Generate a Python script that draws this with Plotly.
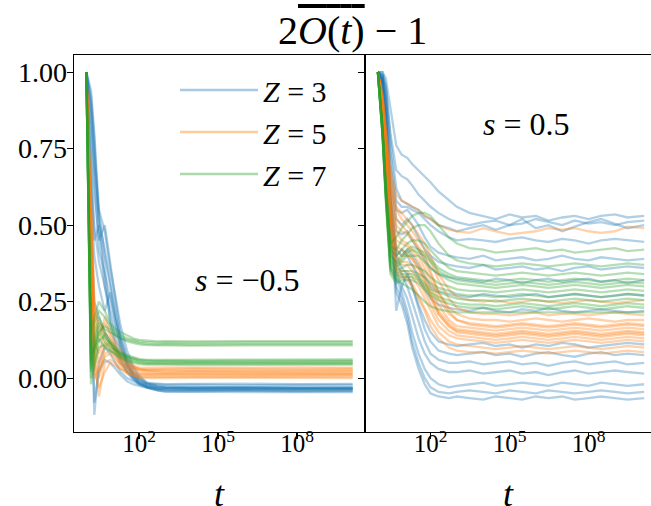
import plotly.graph_objects as go
from plotly.subplots import make_subplots

# ---------------- data ----------------
T_LEFT = [1, 1.5, 2, 3, 5, 8, 13, 20, 35, 60, 100, 200, 500, 1e3, 1e4, 1e6, 1e8, 1.3e10]

LEFT_Z3 = [
    [1.0, 0.94, 0.80, 0.55, 0.48, 0.36, 0.26, 0.17, 0.09, 0.04, 0.01, -0.015, -0.025, -0.028, -0.030, -0.029, -0.031, -0.030],
    [1.0, 0.88, 0.70, 0.54, 0.40, 0.30, 0.20, 0.13, 0.06, 0.02, 0.0, -0.02, -0.03, -0.032, -0.034, -0.033, -0.035, -0.034],
    [1.0, 0.80, 0.62, 0.45, 0.50, 0.38, 0.24, 0.14, 0.07, 0.03, 0.0, -0.015, -0.02, -0.022, -0.021, -0.023, -0.022, -0.022],
    [1.0, 0.72, 0.50, 0.38, 0.30, 0.22, 0.15, 0.09, 0.04, 0.01, -0.01, -0.025, -0.035, -0.037, -0.038, -0.036, -0.038, -0.037],
    [1.0, 0.60, 0.40, 0.30, 0.22, 0.28, 0.18, 0.10, 0.05, 0.015, -0.005, -0.02, -0.027, -0.03, -0.029, -0.031, -0.030, -0.031],
    [1.0, 0.50, 0.25, 0.20, 0.15, 0.12, 0.08, 0.05, 0.02, 0.0, -0.015, -0.03, -0.04, -0.042, -0.043, -0.041, -0.043, -0.042],
    [1.0, 0.35, -0.12, 0.05, 0.10, 0.08, 0.05, 0.02, 0.0, -0.01, -0.02, -0.03, -0.035, -0.036, -0.037, -0.038, -0.036, -0.037],
    [1.0, 0.30, -0.08, 0.02, 0.06, 0.05, 0.03, 0.01, -0.01, -0.02, -0.025, -0.032, -0.04, -0.045, -0.044, -0.046, -0.045, -0.046],
    [1.0, 0.90, 0.75, 0.52, 0.42, 0.32, 0.22, 0.12, 0.05, 0.01, -0.01, -0.02, -0.018, -0.02, -0.019, -0.018, -0.02, -0.019],
    [1.0, 0.85, 0.66, 0.42, 0.34, 0.26, 0.18, 0.11, 0.04, 0.005, -0.015, -0.028, -0.033, -0.033, -0.035, -0.034, -0.033, -0.034],
    [1.0, 0.92, 0.78, 0.50, 0.30, 0.20, 0.12, 0.07, 0.03, 0.0, -0.02, -0.03, -0.038, -0.04, -0.04, -0.039, -0.041, -0.04],
    [1.0, 0.65, 0.45, 0.50, 0.36, 0.18, 0.10, 0.06, 0.02, -0.005, -0.018, -0.026, -0.03, -0.031, -0.032, -0.03, -0.032, -0.031],
]
LEFT_Z5 = [
    [1.0, 0.60, 0.25, 0.15, 0.18, 0.14, 0.10, 0.07, 0.05, 0.035, 0.03, 0.028, 0.03, 0.03, 0.031, 0.03, 0.03, 0.031],
    [1.0, 0.50, 0.15, 0.05, 0.12, 0.10, 0.08, 0.05, 0.03, 0.02, 0.015, 0.015, 0.014, 0.015, 0.015, 0.016, 0.015, 0.015],
    [1.0, 0.45, 0.08, -0.06, 0.05, 0.06, 0.05, 0.03, 0.015, 0.008, 0.005, 0.004, 0.004, 0.005, 0.004, 0.005, 0.004, 0.005],
    [1.0, 0.55, 0.20, 0.12, 0.20, 0.15, 0.12, 0.09, 0.06, 0.04, 0.03, 0.025, 0.022, 0.022, 0.023, 0.022, 0.022, 0.023],
    [1.0, 0.38, 0.05, 0.00, 0.08, 0.09, 0.07, 0.04, 0.02, 0.01, 0.008, 0.008, 0.009, 0.008, 0.009, 0.008, 0.009, 0.009],
    [1.0, 0.42, 0.10, 0.02, 0.10, 0.12, 0.09, 0.06, 0.04, 0.03, 0.022, 0.02, 0.018, 0.018, 0.019, 0.018, 0.019, 0.018],
    [1.0, 0.32, 0.02, -0.03, 0.02, 0.05, 0.04, 0.03, 0.02, 0.01, 0.0, 0.0, 0.001, 0.0, 0.001, 0.0, 0.001, 0.0],
    [1.0, 0.52, 0.22, 0.18, 0.14, 0.11, 0.09, 0.07, 0.05, 0.04, 0.035, 0.034, 0.035, 0.035, 0.034, 0.035, 0.035, 0.034],
    [1.0, 0.48, 0.12, 0.08, 0.15, 0.13, 0.10, 0.06, 0.035, 0.02, 0.012, 0.012, 0.011, 0.012, 0.012, 0.011, 0.012, 0.012],
    [1.0, 0.35, 0.00, 0.03, 0.07, 0.08, 0.06, 0.045, 0.035, 0.03, 0.027, 0.026, 0.025, 0.026, 0.025, 0.026, 0.025, 0.026],
]
LEFT_Z7 = [
    [1.0, 0.10, 0.18, 0.22, 0.20, 0.17, 0.15, 0.14, 0.13, 0.125, 0.12, 0.118, 0.116, 0.117, 0.116, 0.117, 0.116, 0.117],
    [1.0, 0.05, 0.12, 0.18, 0.16, 0.15, 0.14, 0.13, 0.125, 0.12, 0.115, 0.112, 0.11, 0.111, 0.11, 0.111, 0.11, 0.111],
    [1.0, 0.15, 0.20, 0.25, 0.22, 0.18, 0.16, 0.15, 0.14, 0.13, 0.125, 0.122, 0.12, 0.121, 0.12, 0.121, 0.12, 0.121],
    [1.0, 0.08, 0.10, 0.15, 0.17, 0.16, 0.14, 0.13, 0.12, 0.115, 0.11, 0.108, 0.107, 0.107, 0.106, 0.107, 0.106, 0.107],
    [1.0, 0.02, 0.08, 0.15, 0.12, 0.10, 0.09, 0.08, 0.07, 0.065, 0.06, 0.058, 0.056, 0.057, 0.056, 0.057, 0.056, 0.057],
    [1.0, 0.0, 0.05, 0.12, 0.14, 0.11, 0.09, 0.075, 0.065, 0.058, 0.053, 0.05, 0.05, 0.05, 0.051, 0.05, 0.051, 0.05],
    [1.0, 0.06, 0.14, 0.20, 0.15, 0.12, 0.10, 0.085, 0.075, 0.068, 0.063, 0.06, 0.06, 0.061, 0.06, 0.061, 0.06, 0.061],
    [1.0, -0.02, 0.04, 0.10, 0.11, 0.09, 0.075, 0.065, 0.055, 0.05, 0.046, 0.044, 0.043, 0.044, 0.043, 0.044, 0.043, 0.044],
    [1.0, 0.03, 0.10, 0.17, 0.13, 0.115, 0.095, 0.08, 0.07, 0.062, 0.057, 0.054, 0.053, 0.054, 0.053, 0.054, 0.053, 0.054],
    [1.0, 0.04, 0.09, 0.13, 0.10, 0.09, 0.08, 0.07, 0.06, 0.055, 0.05, 0.047, 0.047, 0.047, 0.046, 0.047, 0.046, 0.047],
]

T_RIGHT = [1, 1.5, 2, 3, 5, 8, 13, 20, 35, 60, 100, 200, 500, 1e3, 3e3, 1e4, 3e4, 1e5, 3e5,
           1e6, 3e6, 1e7, 3e7, 1e8, 3e8, 1e9, 3e9, 1.3e10]

RIGHT_Z3 = [
    [1.0, 1.0, 0.98, 0.88, 0.76, 0.73, 0.72, 0.70, 0.68, 0.66, 0.64, 0.61, 0.58, 0.56, 0.54, 0.53, 0.52, 0.535, 0.525, 0.53, 0.515, 0.525, 0.53, 0.52, 0.53, 0.535, 0.525, 0.53],
    [1.0, 0.99, 0.95, 0.80, 0.68, 0.66, 0.65, 0.63, 0.60, 0.58, 0.56, 0.54, 0.52, 0.51, 0.50, 0.51, 0.515, 0.50, 0.505, 0.52, 0.51, 0.50, 0.515, 0.505, 0.51, 0.50, 0.51, 0.515],
    [1.0, 1.0, 0.96, 0.78, 0.62, 0.58, 0.57, 0.56, 0.55, 0.53, 0.52, 0.50, 0.49, 0.48, 0.49, 0.50, 0.485, 0.50, 0.52, 0.49, 0.50, 0.48, 0.495, 0.51, 0.52, 0.505, 0.49, 0.50],
    [1.0, 0.99, 0.93, 0.74, 0.58, 0.56, 0.56, 0.55, 0.54, 0.52, 0.50, 0.48, 0.46, 0.45, 0.455, 0.45, 0.445, 0.455, 0.46, 0.45, 0.445, 0.455, 0.45, 0.44, 0.45, 0.455, 0.45, 0.445],
    [1.0, 0.99, 0.92, 0.70, 0.55, 0.54, 0.55, 0.53, 0.50, 0.46, 0.43, 0.41, 0.40, 0.395, 0.39, 0.40, 0.385, 0.39, 0.395, 0.385, 0.39, 0.40, 0.39, 0.385, 0.395, 0.39, 0.385, 0.39],
    [1.0, 0.98, 0.90, 0.66, 0.52, 0.50, 0.52, 0.50, 0.46, 0.42, 0.40, 0.38, 0.37, 0.365, 0.36, 0.37, 0.355, 0.36, 0.365, 0.355, 0.36, 0.35, 0.36, 0.365, 0.355, 0.36, 0.365, 0.36],
    [1.0, 0.98, 0.88, 0.62, 0.48, 0.47, 0.48, 0.45, 0.42, 0.39, 0.36, 0.34, 0.33, 0.325, 0.32, 0.315, 0.325, 0.32, 0.31, 0.32, 0.325, 0.315, 0.32, 0.325, 0.315, 0.32, 0.31, 0.32],
    [1.0, 0.98, 0.87, 0.60, 0.42, 0.40, 0.42, 0.40, 0.37, 0.33, 0.30, 0.285, 0.275, 0.27, 0.265, 0.275, 0.27, 0.265, 0.27, 0.275, 0.265, 0.27, 0.275, 0.27, 0.265, 0.27, 0.275, 0.27],
    [1.0, 0.97, 0.85, 0.58, 0.40, 0.36, 0.34, 0.30, 0.24, 0.19, 0.15, 0.12, 0.11, 0.105, 0.11, 0.115, 0.105, 0.11, 0.10, 0.11, 0.105, 0.115, 0.11, 0.10, 0.105, 0.11, 0.115, 0.11],
    [1.0, 0.97, 0.84, 0.55, 0.22, 0.30, 0.34, 0.30, 0.23, 0.16, 0.12, 0.09, 0.08, 0.075, 0.08, 0.085, 0.075, 0.08, 0.07, 0.08, 0.085, 0.075, 0.07, 0.08, 0.085, 0.075, 0.08, 0.075],
    [1.0, 0.97, 0.83, 0.55, 0.38, 0.34, 0.30, 0.25, 0.18, 0.12, 0.08, 0.06, 0.05, 0.05, 0.055, 0.045, 0.05, 0.055, 0.045, 0.05, 0.04, 0.05, 0.055, 0.045, 0.05, 0.055, 0.045, 0.05],
    [1.0, 0.97, 0.82, 0.52, 0.35, 0.30, 0.26, 0.20, 0.13, 0.08, 0.05, 0.03, 0.02, 0.02, 0.025, 0.015, 0.02, 0.025, 0.015, 0.02, 0.01, 0.02, 0.025, 0.015, 0.02, 0.025, 0.02, 0.015],
    [1.0, 0.96, 0.80, 0.50, 0.33, 0.28, 0.22, 0.15, 0.08, 0.03, 0.0, -0.02, -0.03, -0.025, -0.02, -0.015, -0.025, -0.02, -0.015, -0.02, -0.025, -0.015, -0.02, -0.025, -0.015, -0.02, -0.025, -0.02],
    [1.0, 0.96, 0.78, 0.48, 0.30, 0.26, 0.20, 0.12, 0.05, 0.0, -0.03, -0.045, -0.05, -0.045, -0.04, -0.045, -0.05, -0.04, -0.045, -0.05, -0.04, -0.045, -0.05, -0.045, -0.04, -0.045, -0.05, -0.045],
    [1.0, 0.96, 0.76, 0.46, 0.28, 0.24, 0.18, 0.10, 0.03, -0.02, -0.05, -0.06, -0.065, -0.06, -0.065, -0.07, -0.06, -0.065, -0.07, -0.06, -0.065, -0.06, -0.07, -0.065, -0.06, -0.065, -0.07, -0.065],
    [1.0, 0.98, 0.86, 0.58, 0.40, 0.42, 0.40, 0.37, 0.33, 0.29, 0.26, 0.24, 0.23, 0.225, 0.22, 0.23, 0.22, 0.215, 0.225, 0.22, 0.23, 0.22, 0.215, 0.22, 0.225, 0.22, 0.215, 0.22],
]
RIGHT_Z5 = [
    [1.0, 0.93, 0.82, 0.68, 0.60, 0.58, 0.57, 0.56, 0.55, 0.53, 0.52, 0.50, 0.485, 0.48, 0.475, 0.49, 0.48, 0.47, 0.475, 0.48, 0.49, 0.485, 0.49, 0.48, 0.475, 0.48, 0.495, 0.49],
    [1.0, 0.92, 0.80, 0.62, 0.55, 0.52, 0.50, 0.48, 0.45, 0.42, 0.38, 0.32, 0.26, 0.23, 0.215, 0.21, 0.21, 0.205, 0.21, 0.215, 0.205, 0.21, 0.21, 0.205, 0.21, 0.215, 0.21, 0.205],
    [1.0, 0.91, 0.78, 0.60, 0.50, 0.48, 0.47, 0.45, 0.42, 0.38, 0.34, 0.28, 0.23, 0.21, 0.195, 0.19, 0.19, 0.185, 0.19, 0.195, 0.19, 0.185, 0.19, 0.195, 0.19, 0.185, 0.19, 0.19],
    [1.0, 0.90, 0.76, 0.58, 0.48, 0.45, 0.44, 0.42, 0.40, 0.36, 0.32, 0.26, 0.21, 0.19, 0.18, 0.175, 0.17, 0.175, 0.18, 0.175, 0.17, 0.175, 0.18, 0.175, 0.17, 0.175, 0.18, 0.175],
    [1.0, 0.90, 0.75, 0.55, 0.45, 0.44, 0.43, 0.41, 0.38, 0.34, 0.30, 0.24, 0.19, 0.17, 0.165, 0.16, 0.155, 0.16, 0.165, 0.16, 0.155, 0.16, 0.165, 0.16, 0.155, 0.16, 0.165, 0.16],
    [1.0, 0.89, 0.74, 0.54, 0.42, 0.40, 0.40, 0.39, 0.36, 0.32, 0.28, 0.22, 0.18, 0.16, 0.155, 0.15, 0.145, 0.15, 0.155, 0.15, 0.145, 0.15, 0.155, 0.15, 0.145, 0.15, 0.155, 0.15],
    [1.0, 0.89, 0.72, 0.52, 0.40, 0.38, 0.38, 0.37, 0.34, 0.30, 0.26, 0.21, 0.17, 0.15, 0.145, 0.14, 0.135, 0.14, 0.145, 0.14, 0.135, 0.14, 0.145, 0.14, 0.135, 0.14, 0.145, 0.14],
    [1.0, 0.88, 0.70, 0.50, 0.38, 0.37, 0.37, 0.35, 0.32, 0.28, 0.24, 0.19, 0.155, 0.14, 0.135, 0.13, 0.125, 0.13, 0.135, 0.13, 0.125, 0.13, 0.135, 0.13, 0.125, 0.13, 0.135, 0.13],
    [1.0, 0.88, 0.68, 0.50, 0.36, 0.35, 0.35, 0.33, 0.30, 0.26, 0.22, 0.17, 0.14, 0.13, 0.125, 0.12, 0.115, 0.12, 0.125, 0.12, 0.115, 0.12, 0.125, 0.12, 0.115, 0.12, 0.125, 0.12],
    [1.0, 0.87, 0.67, 0.48, 0.35, 0.34, 0.33, 0.31, 0.27, 0.23, 0.19, 0.15, 0.12, 0.11, 0.105, 0.10, 0.095, 0.10, 0.105, 0.10, 0.095, 0.10, 0.105, 0.10, 0.095, 0.10, 0.105, 0.10],
    [1.0, 0.87, 0.66, 0.47, 0.34, 0.33, 0.32, 0.30, 0.26, 0.22, 0.17, 0.13, 0.10, 0.09, 0.085, 0.085, 0.08, 0.085, 0.09, 0.085, 0.08, 0.085, 0.09, 0.085, 0.08, 0.085, 0.09, 0.085],
    [1.0, 0.91, 0.79, 0.64, 0.52, 0.50, 0.48, 0.46, 0.43, 0.40, 0.35, 0.28, 0.22, 0.19, 0.175, 0.17, 0.165, 0.17, 0.175, 0.17, 0.165, 0.17, 0.175, 0.17, 0.165, 0.17, 0.175, 0.17],
    [1.0, 0.92, 0.81, 0.66, 0.56, 0.54, 0.52, 0.50, 0.47, 0.44, 0.40, 0.34, 0.29, 0.265, 0.255, 0.25, 0.255, 0.245, 0.25, 0.255, 0.25, 0.245, 0.25, 0.255, 0.25, 0.245, 0.25, 0.255],
    [1.0, 0.90, 0.73, 0.56, 0.43, 0.42, 0.41, 0.39, 0.36, 0.32, 0.27, 0.21, 0.17, 0.155, 0.15, 0.145, 0.14, 0.145, 0.15, 0.145, 0.14, 0.145, 0.15, 0.145, 0.14, 0.145, 0.15, 0.145],
]
RIGHT_Z7 = [
    [1.0, 0.82, 0.64, 0.44, 0.46, 0.49, 0.51, 0.53, 0.54, 0.54, 0.53, 0.50, 0.46, 0.44, 0.425, 0.42, 0.41, 0.415, 0.42, 0.425, 0.415, 0.42, 0.41, 0.415, 0.42, 0.425, 0.415, 0.42],
    [1.0, 0.80, 0.60, 0.36, 0.32, 0.31, 0.30, 0.29, 0.27, 0.25, 0.235, 0.225, 0.218, 0.215, 0.215, 0.215, 0.214, 0.215, 0.215, 0.214, 0.215, 0.215, 0.214, 0.215, 0.215, 0.214, 0.215, 0.215],
    [1.0, 0.82, 0.63, 0.42, 0.40, 0.42, 0.44, 0.45, 0.45, 0.44, 0.42, 0.39, 0.36, 0.35, 0.345, 0.34, 0.335, 0.34, 0.345, 0.34, 0.335, 0.34, 0.345, 0.34, 0.335, 0.34, 0.345, 0.34],
    [1.0, 0.81, 0.62, 0.40, 0.38, 0.40, 0.42, 0.43, 0.42, 0.41, 0.39, 0.36, 0.34, 0.33, 0.325, 0.32, 0.315, 0.32, 0.325, 0.32, 0.315, 0.32, 0.325, 0.32, 0.315, 0.32, 0.325, 0.32],
    [1.0, 0.81, 0.61, 0.39, 0.36, 0.38, 0.40, 0.40, 0.40, 0.38, 0.36, 0.34, 0.32, 0.31, 0.305, 0.30, 0.295, 0.30, 0.305, 0.30, 0.295, 0.30, 0.305, 0.30, 0.295, 0.30, 0.305, 0.30],
    [1.0, 0.80, 0.60, 0.38, 0.35, 0.36, 0.37, 0.37, 0.36, 0.35, 0.33, 0.31, 0.30, 0.29, 0.285, 0.285, 0.28, 0.285, 0.29, 0.285, 0.28, 0.285, 0.29, 0.285, 0.28, 0.285, 0.29, 0.285],
    [1.0, 0.80, 0.60, 0.37, 0.34, 0.35, 0.35, 0.35, 0.34, 0.33, 0.31, 0.295, 0.285, 0.275, 0.27, 0.27, 0.265, 0.27, 0.275, 0.27, 0.265, 0.27, 0.275, 0.27, 0.265, 0.27, 0.275, 0.27],
    [1.0, 0.80, 0.59, 0.36, 0.33, 0.34, 0.34, 0.34, 0.33, 0.31, 0.29, 0.28, 0.27, 0.26, 0.255, 0.255, 0.25, 0.255, 0.26, 0.255, 0.25, 0.255, 0.26, 0.255, 0.25, 0.255, 0.26, 0.255],
    [1.0, 0.79, 0.59, 0.35, 0.32, 0.33, 0.33, 0.33, 0.32, 0.30, 0.28, 0.265, 0.255, 0.245, 0.24, 0.24, 0.235, 0.24, 0.245, 0.24, 0.235, 0.24, 0.245, 0.24, 0.235, 0.24, 0.245, 0.24],
    [1.0, 0.79, 0.58, 0.34, 0.31, 0.32, 0.32, 0.32, 0.31, 0.29, 0.27, 0.255, 0.245, 0.235, 0.23, 0.23, 0.225, 0.23, 0.235, 0.23, 0.225, 0.23, 0.235, 0.23, 0.225, 0.23, 0.235, 0.23],
    [1.0, 0.82, 0.63, 0.43, 0.42, 0.45, 0.47, 0.49, 0.50, 0.50, 0.48, 0.44, 0.40, 0.385, 0.375, 0.37, 0.365, 0.37, 0.375, 0.37, 0.365, 0.37, 0.375, 0.37, 0.365, 0.37, 0.375, 0.37],
    [1.0, 0.81, 0.62, 0.41, 0.37, 0.39, 0.41, 0.42, 0.41, 0.40, 0.38, 0.35, 0.33, 0.32, 0.315, 0.31, 0.305, 0.31, 0.315, 0.31, 0.305, 0.31, 0.315, 0.31, 0.305, 0.31, 0.315, 0.31],
]

Z_VALUES = [3, 5, 7]
Y_TICKS = [0.0, 0.25, 0.5, 0.75, 1.0]
Y_TICK_TEXT = ["0.00", "0.25", "0.50", "0.75", "1.00"]
X_TICKS = [1e2, 1e5, 1e8]
X_TICK_TEXT = ["10<sup>2</sup>", "10<sup>5</sup>", "10<sup>8</sup>"]
S_LABELS = ["<i>s</i> = −0.5", "<i>s</i> = 0.5"]

# ---------------- styling ----------------
RGB = {3: (31, 119, 180), 5: (255, 127, 14), 7: (44, 160, 44)}
LINE_ALPHA = 0.35
LEG_ALPHA = 0.4
FONT = "Liberation Serif"

fig = make_subplots(rows=1, cols=2, shared_yaxes=True, horizontal_spacing=0)

panels = [
    (1, T_LEFT, {3: LEFT_Z3, 5: LEFT_Z5, 7: LEFT_Z7}),
    (2, T_RIGHT, {3: RIGHT_Z3, 5: RIGHT_Z5, 7: RIGHT_Z7}),
]
for col, tt, groups in panels:
    for z in Z_VALUES:
        r, g, b = RGB[z]
        for series in groups[z]:
            fig.add_trace(go.Scatter(
                x=tt, y=series, mode="lines",
                line=dict(color=f"rgba({r},{g},{b},{LINE_ALPHA})", width=2.3),
                showlegend=False, hoverinfo="skip"), row=1, col=col)

# legend entries
for z in Z_VALUES:
    r, g, b = RGB[z]
    fig.add_trace(go.Scatter(
        x=[None], y=[None], mode="lines", name=f"<i>Z</i> = {z}",
        legendgroup=f"z{z}",
        line=dict(color=f"rgba({r},{g},{b},{LEG_ALPHA})", width=2.5)), row=1, col=1)

# the page body margin is removed (post_script), so the figure fills the window
W, H = 651, 506
ML, MR, MT, MB = 74, 0, 55, 74
pw = W - ML - MR          # 577
ph = H - MT - MB          # 377
panel_w = 291.5
split = panel_w / pw
dec = 11.07               # decades shown across one full panel


def px(x):                # window pixel -> paper
    return (x - ML) / pw


def py(y):
    return (H - MB - y) / ph


fig.update_layout(
    width=W, height=H,
    margin=dict(l=ML, r=MR, t=MT, b=MB),
    paper_bgcolor="white", plot_bgcolor="white",
    font=dict(family=FONT, size=26, color="black"),
    showlegend=True,
    legend=dict(x=px(175), y=py(64), xanchor="left", yanchor="top",
                bgcolor="rgba(0,0,0,0)", font=dict(size=30, family=FONT),
                itemwidth=78, tracegroupgap=0),
)

axis_common = dict(showgrid=False, zeroline=False, showline=True, linecolor="black",
                   linewidth=1.3, ticks="outside", ticklen=6, tickwidth=1.2,
                   tickcolor="black")

fig.update_xaxes(type="log", tickvals=X_TICKS, ticktext=X_TICK_TEXT, mirror=True,
                 tickfont=dict(size=25, family=FONT), ticklabelstandoff=-17,
                 **axis_common)
fig.update_layout(xaxis=dict(domain=[0, split], range=[-0.47, -0.47 + dec]),
                  xaxis2=dict(domain=[split, 1],
                              range=[-0.47, -0.47 + (pw - panel_w) / panel_w * dec]))
fig.update_yaxes(range=[-0.176, 1.056], tickvals=Y_TICKS, **axis_common)
fig.update_layout(yaxis=dict(ticktext=Y_TICK_TEXT, mirror=False, ticklabelstandoff=-6,
                             tickfont=dict(size=28, family=FONT)),
                  yaxis2=dict(showticklabels=False, mirror=False))

annos = [
    dict(x=px(352), y=py(31),
         text="2<span style='text-decoration:overline'><i>O</i>(<i>t</i>)</span> − 1",
         font=dict(size=40)),
    dict(x=px(219.5), y=py(494), text="<i>t</i>", font=dict(size=36)),
    dict(x=px(508), y=py(494), text="<i>t</i>", font=dict(size=36)),
    dict(x=px(247), y=py(280), text=S_LABELS[0], font=dict(size=32)),
    dict(x=px(526), y=py(124), text=S_LABELS[1], font=dict(size=32)),
]
for a in annos:
    fig.add_annotation(xref="paper", yref="paper", showarrow=False,
                       xanchor="center", yanchor="middle", **a)

fig.write_html("out.html",
               config={"displayModeBar": False, "staticPlot": True},
               post_script="document.body.style.margin='0px';"
                           "document.body.style.overflow='hidden';")
